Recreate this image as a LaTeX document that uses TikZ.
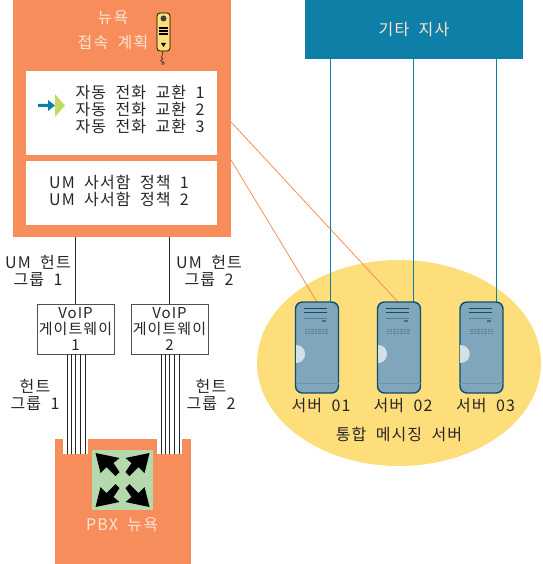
\documentclass[tikz,border=0pt]{standalone}
\usepackage{fontspec}
\setmainfont[LetterSpace=7,WordSpace=2]{Noto Sans CJK KR}
\usetikzlibrary{calc,positioning}
\definecolor{pbxorange}{HTML}{F78D5A}
\definecolor{siteblue}{HTML}{0E7FA6}
\definecolor{umyellow}{HTML}{FEDD7B}
\definecolor{srvfill}{HTML}{7FA6BA}
\definecolor{srvline}{HTML}{0B4F6C}
\definecolor{pale}{HTML}{FFE3D3}
\definecolor{matrixgreen}{HTML}{B4D9AC}
\definecolor{lime}{HTML}{C2DB63}
\definecolor{ink}{HTML}{262626}
\tikzset{
  panel/.style={inner sep=0pt,outer sep=0pt,minimum width=#1,fill=white},
  lbl/.style={inner sep=0pt,align=center,font=\fontsize{16}{17}\selectfont,text=ink},
  palelbl/.style={lbl,text=pale},
  gateway/.style={draw=ink!80,line width=1pt,fill=white,inner sep=0pt,outer sep=0pt,minimum width=77pt,minimum height=50pt},
  srv/.style={draw=srvline,line width=1.4pt,fill=srvfill,rounded corners=7pt,inner sep=0pt,outer sep=0pt,minimum width=43pt,minimum height=91pt},
  wire/.style={line width=1pt,draw=ink},
  dplink/.style={line width=.8pt,draw=pbxorange},
  sitelink/.style={line width=.8pt,draw=siteblue},
}
\begin{document}
\begin{tikzpicture}[x=1pt,y=-1pt]
\useasboundingbox (0,0) rectangle (542,564);
\node[panel=218pt,fill=pbxorange,minimum height=237pt] (dial) at (122,118.5) {};
\node[panel=191pt,minimum height=84pt] (aa) at (121.5,113) {};
\node[panel=191pt,minimum height=64pt] (mbx) at (121.5,193) {};
\node[palelbl] (dialtxt) at (113,30) {뉴욕\\[8pt]접속 계획};
\node[lbl,align=left] (aatxt) at (140,109) {자동 전화 교환 1\\자동 전화 교환 2\\자동 전화 교환 3};
\node[lbl,align=left] (mbxtxt) at (119,191) {UM 사서함 정책 1\\UM 사서함 정책 2};
\draw[fill=umyellow,draw=black,line width=.7pt,rounded corners=3pt] (157,13) rectangle (170,51);
\fill[black!75] (163.5,18.5) circle (3pt);
\foreach \i in {0,1,2}
  \foreach \j in {0,1,2}
    \fill[black] (159.3+\i*3,27+\j*3) rectangle +(2.4,2.4);
\fill[black] (161,43) -- (166,43) -- (163.5,47) -- cycle;
\draw[black!80,line width=.6pt] (163,51) -- (162,56) .. controls (159,58) and (166,58) .. (161,60) .. controls (158,62) and (167,61) .. (162,63) .. controls (160,65) and (166,65) .. (164,62);
\fill[lime] (55,94) -- (65,105.5) -- (55,117) -- cycle;
\fill[siteblue] (38,104) -- (48,104) -- (48,100) -- (55,105.5) -- (48,111) -- (48,107) -- (38,107) -- cycle;
\node[fill=siteblue,inner sep=0pt,minimum width=218pt,minimum height=59pt,text=pale] (site) at (414,29.5) {\fontsize{16}{17}\selectfont 기타 지사};
\node[inner sep=0pt,outer sep=0pt,fill=umyellow,draw=none,shape=circle,minimum size=0pt] (umc) at (399,363) {};
\fill[umyellow] (umc) ellipse (142pt and 103pt);
\coordinate (dp1) at (231,122);
\coordinate (dp2) at (231,160);
\coordinate (s1a) at (317,302);
\coordinate (s2a) at (398,302);
\draw[dplink] (dp1) -- (s2a);
\draw[dplink] (dp2) -- (s1a);
\foreach \n/\x/\lx in {1/317/330,2/399/413,3/481.5/496}{
  \draw[sitelink] (site.south -| \lx,0) -- (\lx,302);
  \node[srv] (srv\n) at (\x,347.5) {};
  \fill[srvline] (\x-13,307.5) rectangle (\x+10,308.5);
  \fill[srvline] (\x-13,312) rectangle (\x+10,313);
  \fill[srvline!70] (\x-13,318) rectangle (\x+10,318.6);
  \fill[srvline!80] (\x+5,320) rectangle (\x+9,322);
  \foreach \d in {329,331,333}
    \draw[srvline!70,line width=.4pt,densely dotted] (\x-12,\d) -- (\x+11,\d);
  \fill[white!65!srvfill] (\x-21.5,345) .. controls (\x-9,345) and (\x-9,363) .. (\x-21.5,363) -- cycle;
  \draw[srvline!60,line width=.6pt] (\x-21.5,383) -- (\x+21.5,383);
  \node[lbl] (srvtxt\n) at (\x+4,406) {서버 0\n};
}
\node[lbl] (umtxt) at (399,434) {통합 메시징 서버};
\node[panel=136pt,fill=pbxorange,minimum height=125pt] (pbx) at (123,501.5) {};
\node[panel=25pt,minimum height=15pt] (notch1) at (75.5,446.5) {};
\node[panel=25pt,minimum height=15pt] (notch2) at (169.5,446.5) {};
\node[panel=61pt,fill=matrixgreen,minimum height=60pt] (matrix) at (122.5,480) {};
\foreach \sx/\sy in {1/1,-1/1,1/-1,-1/-1}
  \fill[black,shift={(matrix.center)},xscale=\sx,yscale=\sy] (-27,-27) -- (-3,-22) -- (-9,-17) -- (-3,-8) -- (-7,-4) -- (-16,-13) -- (-22,-7) -- cycle;
\node[palelbl] (pbxtxt) at (122,525) {PBX 뉴욕};
\node[gateway] (gw1) at (75.5,329) {};
\node[gateway] (gw2) at (169.5,329) {};
\node[lbl,text width=77pt,font=\fontsize{15}{16}\selectfont] (gwtxt1) at (gw1) {VoIP\\게이트웨이\\1};
\node[lbl,text width=77pt,font=\fontsize{15}{16}\selectfont] (gwtxt2) at (gw2) {VoIP\\게이트웨이\\2};
\draw[wire] (dial.south -| gw1.north) -- (gw1.north);
\draw[wire] (dial.south -| gw2.north) -- (gw2.north);
\foreach \n in {1,2}
  \foreach \d in {-8.5,-4.5,-.5,4.5,9.5}
    \draw[wire] ($(gw\n.south)+(\d,0)$) -- ($(notch\n.south)+(\d,0)$);
\node[lbl] (umh1) at (38,271) {UM 헌트\\그룹 1};
\node[lbl] (umh2) at (209,271) {UM 헌트\\그룹 2};
\node[lbl] (h1) at (35,395) {헌트\\그룹 1};
\node[lbl] (h2) at (211,395) {헌트\\그룹 2};
\end{tikzpicture}
\end{document}
